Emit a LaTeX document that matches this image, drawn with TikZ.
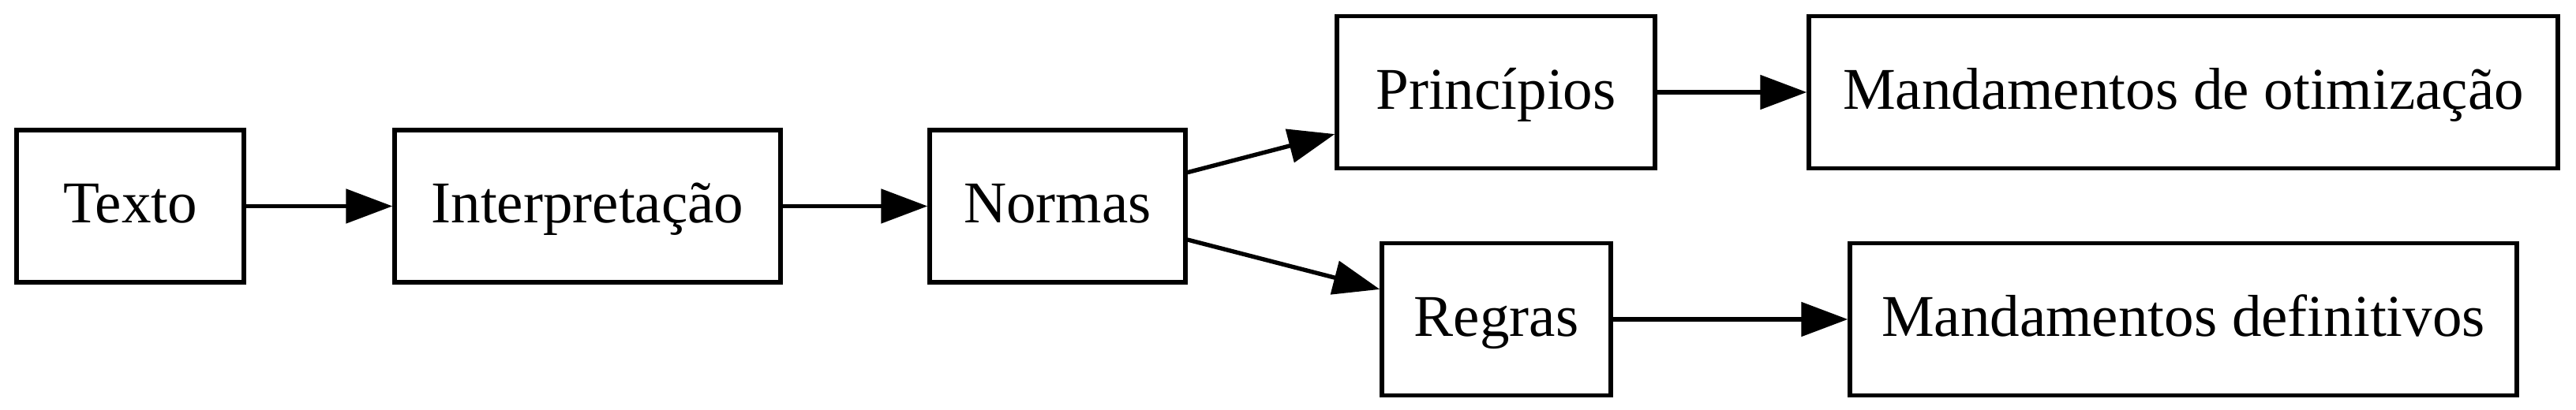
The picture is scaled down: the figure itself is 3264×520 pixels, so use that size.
\documentclass[tikz,border=0pt]{standalone}
\usepackage{fontspec}
\setmainfont{Liberation Serif}
\usetikzlibrary{arrows.meta}
\begin{document}
\begin{tikzpicture}[x=0.18657pt,y=-0.18657pt,
  box/.style={draw,line width=1pt,rectangle,inner sep=0pt,minimum height=36pt,
    text height=10pt,text depth=2pt,
    font=\fontsize{14pt}{16pt}\selectfont},
  edge/.style={line width=1pt,-{Triangle[length=11pt,width=8pt]}}]
\useasboundingbox (0,0) rectangle (3264,520);
\node[box,minimum width=53.73pt] (texto) at (165,261.5) {Texto};
\node[box,minimum width=91.23pt] (interp) at (744.5,261.5) {Interpretação};
\node[box,minimum width=60.45pt] (normas) at (1340,261.5) {Normas};
\node[box,minimum width=75.19pt] (princ) at (1895.5,117) {Princípios};
\node[box,minimum width=177.06pt] (otim) at (2766.5,117) {Mandamentos de otimização};
\node[box,minimum width=54.1pt] (regras) at (1896,405) {Regras};
\node[box,minimum width=157.65pt] (def) at (2766.5,405) {Mandamentos definitivos};
\draw[edge] (texto) -- (interp);
\draw[edge] (interp) -- (normas);
\draw[edge] (normas) -- (princ);
\draw[edge] (normas) -- (regras);
\draw[edge] (princ) -- (otim);
\draw[edge] (regras) -- (def);
\end{tikzpicture}
\end{document}
